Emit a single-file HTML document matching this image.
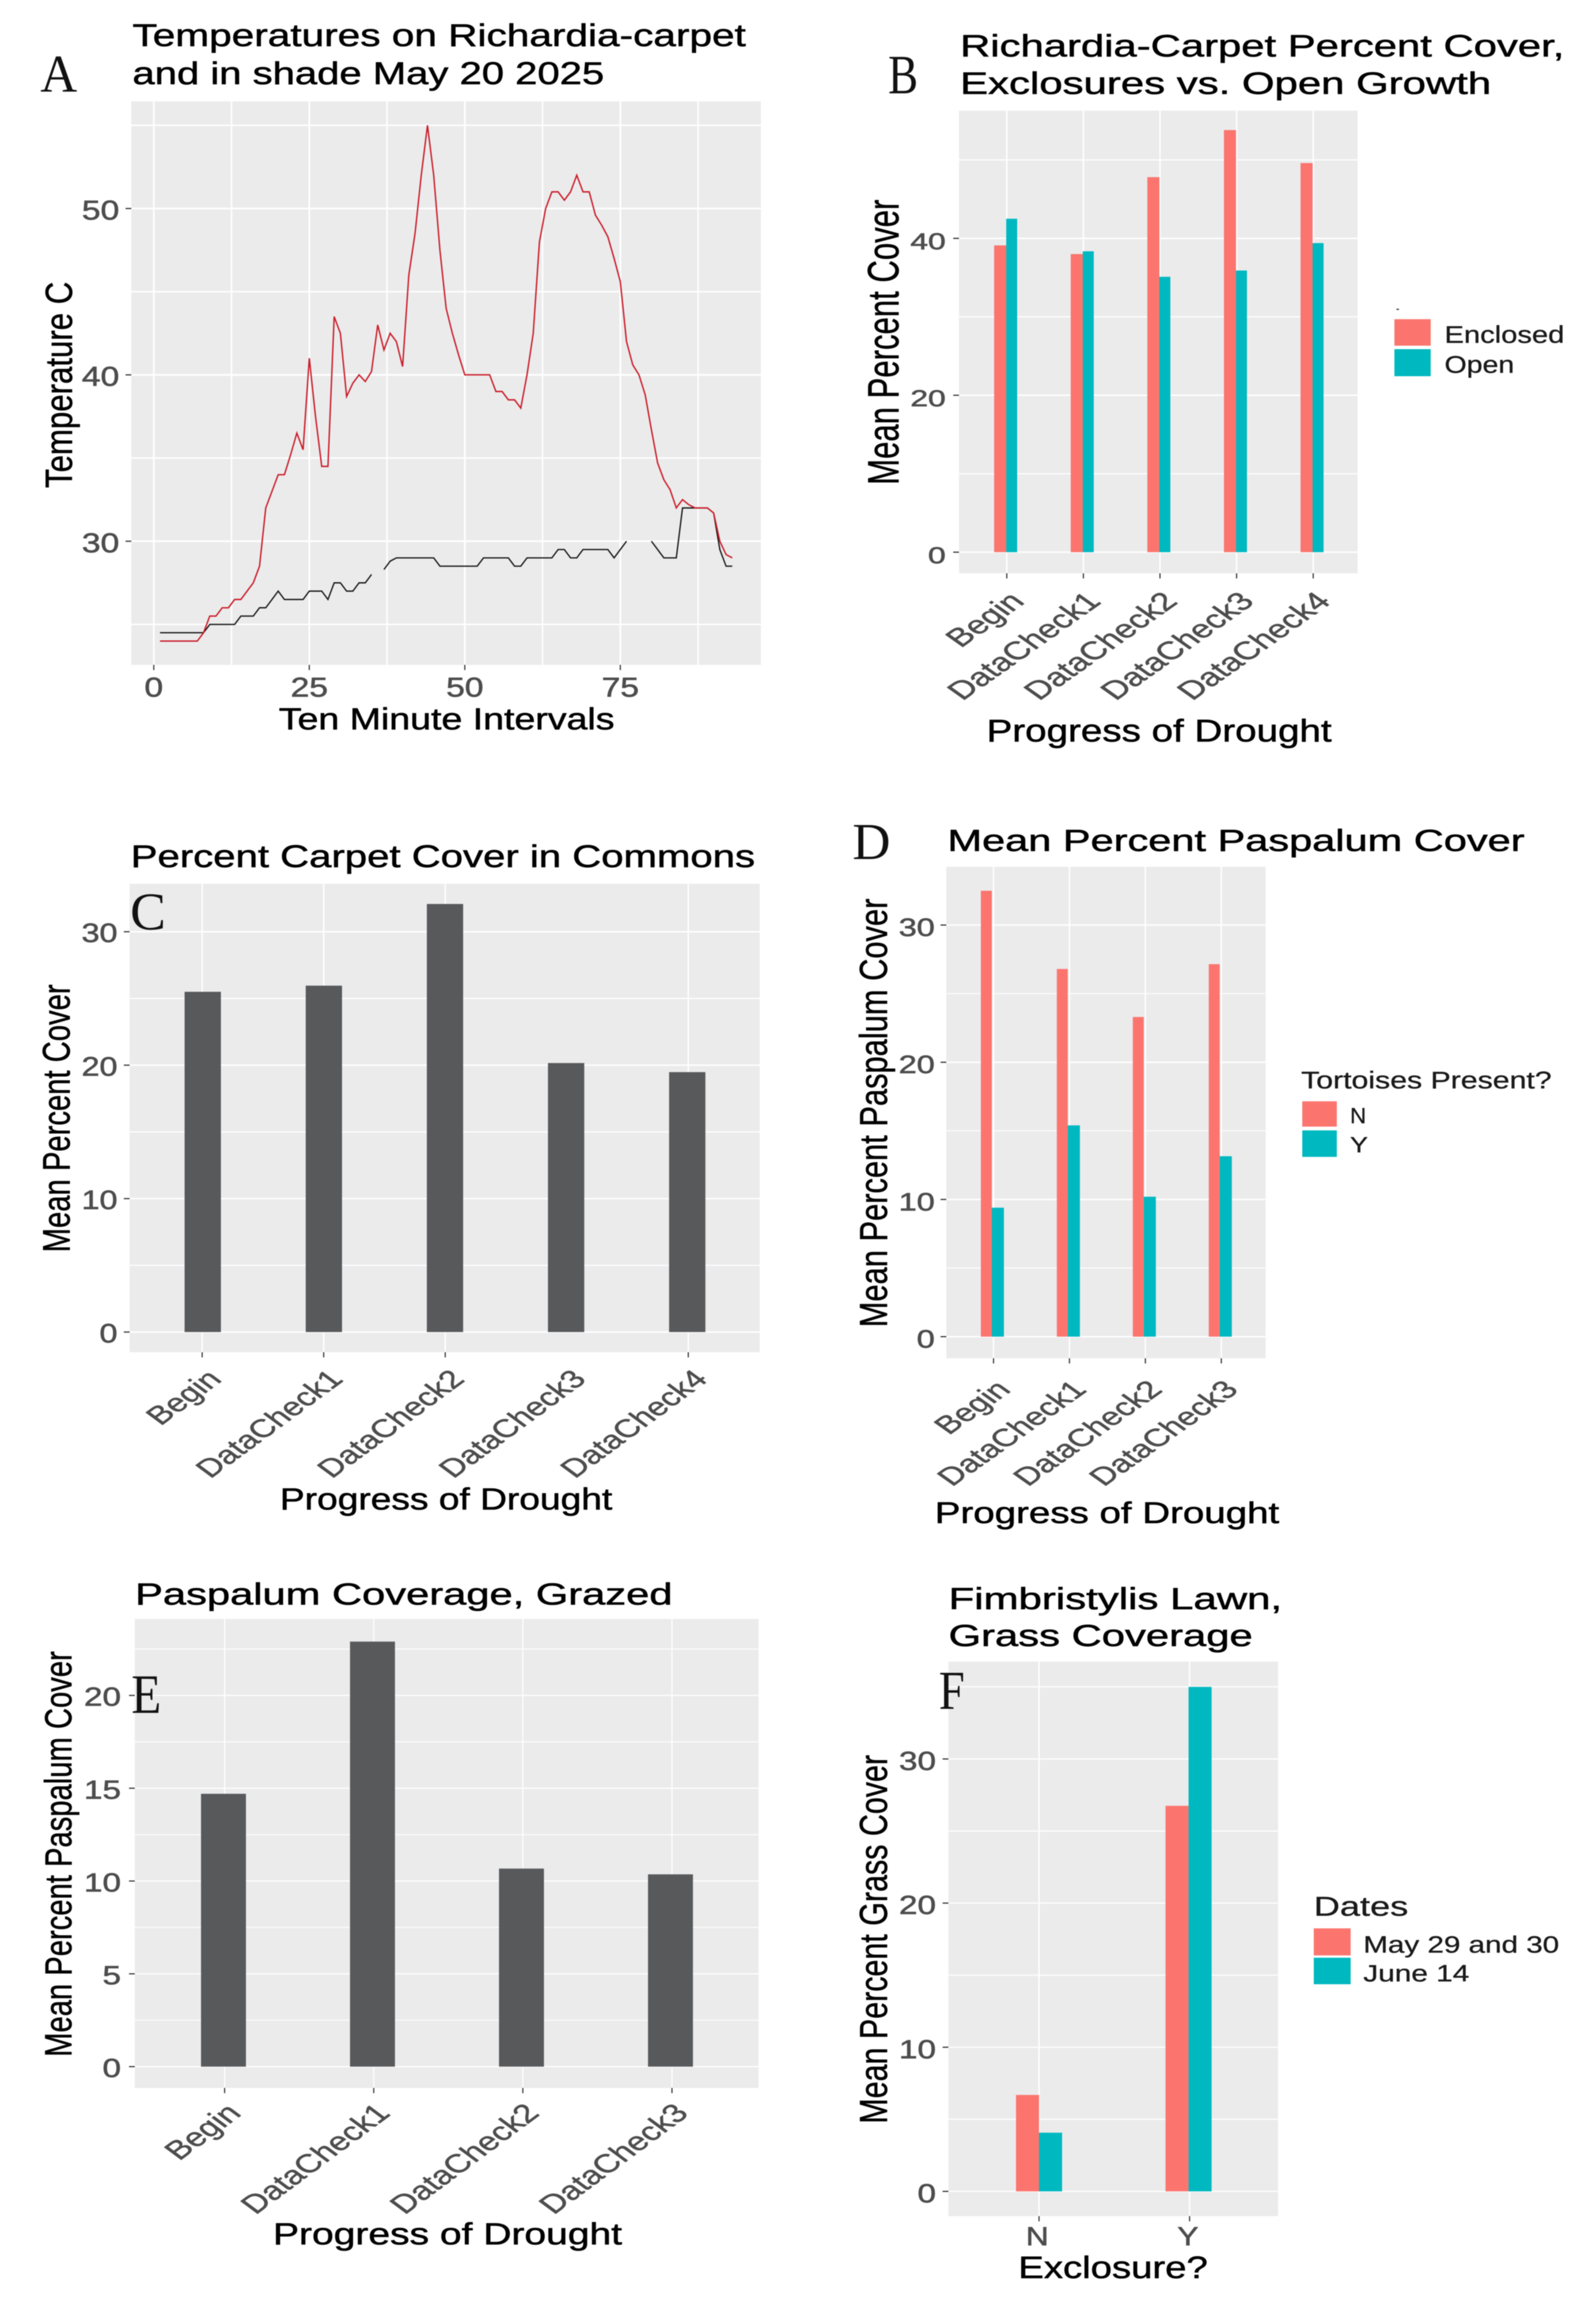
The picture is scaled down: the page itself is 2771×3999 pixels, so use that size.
<!DOCTYPE html>
<html lang="en">
<head>
<meta charset="utf-8">
<title>Richardia carpet and Paspalum cover figure</title>
<style>
html,body{margin:0;padding:0;background:#fff;}
svg{display:block;filter:blur(0.7px);}
text{font-family:"Liberation Sans",Arial,sans-serif;fill:#000;stroke:#000;stroke-width:0.8px;}
.letter{font-family:"Liberation Serif","Times New Roman",serif;fill:#111;stroke:none;}
.legend{fill:#1a1a1a;stroke:#1a1a1a;stroke-width:0.5px;}
</style>
</head>
<body>
<svg id="figure" xmlns="http://www.w3.org/2000/svg" width="2771" height="3999" viewBox="0 0 2771 3999">
  <rect x="0" y="0" width="2771" height="3999" fill="#fff"/>

  <g>
    <rect x="228" y="176" width="1093" height="978" fill="#ebebec"/>
    <g id="plot-a"></g>
    <text x="230" y="80" font-size="55" textLength="1065" lengthAdjust="spacingAndGlyphs">Temperatures on Richardia-carpet</text>
    <text x="230" y="146" font-size="55" textLength="819" lengthAdjust="spacingAndGlyphs">and in shade May 20 2025</text>
    <text class="letter" x="70" y="159" font-size="92" textLength="64" lengthAdjust="spacingAndGlyphs">A</text>
    <text x="484" y="1266" font-size="53" textLength="583" lengthAdjust="spacingAndGlyphs">Ten Minute Intervals</text>
    <text transform="translate(125,847) rotate(-90)" font-size="66" textLength="358" lengthAdjust="spacingAndGlyphs">Temperature C</text>
  </g>

  <g>
    <rect x="1665" y="192" width="692" height="803" fill="#ebebec"/>
    <g id="plot-b"></g>
    <text x="1667" y="98" font-size="54" textLength="1049" lengthAdjust="spacingAndGlyphs">Richardia-Carpet Percent Cover,</text>
    <text x="1667" y="163" font-size="54" textLength="922" lengthAdjust="spacingAndGlyphs">Exclosures vs. Open Growth</text>
    <text class="letter" x="1542" y="162" font-size="96" textLength="52" lengthAdjust="spacingAndGlyphs">B</text>
    <text x="1713" y="1287" font-size="55" textLength="599" lengthAdjust="spacingAndGlyphs">Progress of Drought</text>
    <text transform="translate(1560,841.5) rotate(-90)" font-size="76" textLength="495" lengthAdjust="spacingAndGlyphs">Mean Percent Cover</text>
    <g>
      <text class="legend" x="2424" y="541" font-size="16">-</text>
      <rect x="2421" y="554" width="63" height="46" fill="#fb756e"/>
      <rect x="2421" y="606" width="63" height="47" fill="#00b8c0"/>
      <text class="legend" x="2508" y="595" font-size="42" textLength="208" lengthAdjust="spacingAndGlyphs">Enclosed</text>
      <text class="legend" x="2508" y="647" font-size="42" textLength="121" lengthAdjust="spacingAndGlyphs">Open</text>
    </g>
  </g>

  <g>
    <rect x="225" y="1534" width="1094" height="813" fill="#ebebec"/>
    <g id="plot-c"></g>
    <text x="227" y="1505" font-size="55" textLength="1084" lengthAdjust="spacingAndGlyphs">Percent Carpet Cover in Commons</text>
    <text class="letter" x="226" y="1613" font-size="92" textLength="62" lengthAdjust="spacingAndGlyphs">C</text>
    <text x="486" y="2620" font-size="53" textLength="577" lengthAdjust="spacingAndGlyphs">Progress of Drought</text>
    <text transform="translate(121,2173.6) rotate(-90)" font-size="67" textLength="465" lengthAdjust="spacingAndGlyphs">Mean Percent Cover</text>
  </g>

  <g>
    <rect x="1643" y="1504.5" width="554.5" height="853" fill="#ebebec"/>
    <g id="plot-d"></g>
    <text x="1645" y="1477" font-size="53" textLength="1002" lengthAdjust="spacingAndGlyphs">Mean Percent Paspalum Cover</text>
    <text class="letter" x="1480" y="1491" font-size="90" textLength="66" lengthAdjust="spacingAndGlyphs">D</text>
    <text x="1623" y="2643.6" font-size="52" textLength="598" lengthAdjust="spacingAndGlyphs">Progress of Drought</text>
    <text transform="translate(1540,2303.7) rotate(-90)" font-size="68" textLength="744" lengthAdjust="spacingAndGlyphs">Mean Percent Paspalum Cover</text>
    <g>
      <text class="legend" x="2259" y="1889" font-size="42" textLength="435" lengthAdjust="spacingAndGlyphs">Tortoises Present?</text>
      <rect x="2261" y="1911.5" width="60" height="44" fill="#fb756e"/>
      <rect x="2261" y="1962" width="60" height="46" fill="#00b8c0"/>
      <text class="legend" x="2344" y="1949.6" font-size="38" textLength="28" lengthAdjust="spacingAndGlyphs">N</text>
      <text class="legend" x="2344" y="2000" font-size="38" textLength="31" lengthAdjust="spacingAndGlyphs">Y</text>
    </g>
  </g>

  <g>
    <rect x="234" y="2810" width="1083" height="814" fill="#ebebec"/>
    <g id="plot-e"></g>
    <text x="234.6" y="2785" font-size="53" textLength="933" lengthAdjust="spacingAndGlyphs">Paspalum Coverage, Grazed</text>
    <text class="letter" x="228" y="2973" font-size="96" textLength="52" lengthAdjust="spacingAndGlyphs">E</text>
    <text x="474" y="3895.4" font-size="53" textLength="606" lengthAdjust="spacingAndGlyphs">Progress of Drought</text>
    <text transform="translate(124,3570) rotate(-90)" font-size="66" textLength="704" lengthAdjust="spacingAndGlyphs">Mean Percent Paspalum Cover</text>
  </g>

  <g>
    <rect x="1646.6" y="2884" width="572.4" height="962.5" fill="#ebebec"/>
    <g id="plot-f"></g>
    <text x="1647" y="2793" font-size="53" textLength="579" lengthAdjust="spacingAndGlyphs">Fimbristylis Lawn,</text>
    <text x="1647" y="2857" font-size="53" textLength="528" lengthAdjust="spacingAndGlyphs">Grass Coverage</text>
    <text class="letter" x="1630" y="2966" font-size="95" textLength="45" lengthAdjust="spacingAndGlyphs">F</text>
    <text x="1768" y="3954" font-size="54" textLength="329" lengthAdjust="spacingAndGlyphs">Exclosure?</text>
    <text transform="translate(1540,3686) rotate(-90)" font-size="68" textLength="640" lengthAdjust="spacingAndGlyphs">Mean Percent Grass Cover</text>
    <g>
      <text class="legend" x="2281" y="3325" font-size="47" textLength="164" lengthAdjust="spacingAndGlyphs">Dates</text>
      <rect x="2281" y="3347" width="64" height="47" fill="#fb756e"/>
      <rect x="2281" y="3398" width="64" height="46" fill="#00b8c0"/>
      <text class="legend" x="2367" y="3389" font-size="41" textLength="340" lengthAdjust="spacingAndGlyphs">May 29 and 30</text>
      <text class="legend" x="2367" y="3439" font-size="41" textLength="184" lengthAdjust="spacingAndGlyphs">June 14</text>
    </g>
  </g>
</svg>

<script>
// Chart A data: one reading per ten minute interval, starting at interval 1; null marks a gap
const aCarpetTemps = [24,24,24,24,24,24,24,24.5,25.5,25.5,26,26,26.5,26.5,27,27.5,28.5,32,33,34,34,35.2,36.5,35.5,41,37.5,34.5,34.5,43.5,42.5,38.7,39.5,40,39.6,40.2,43,41.5,42.5,42,40.5,46,48.5,52,55,52,47.5,44,42.5,41.2,40,40,40,40,40,39,39,38.5,38.5,38,40,42.5,48,50,51,51,50.5,51,52,51,51,49.6,49,48.3,47,45.6,42,40.6,40,38.8,36.7,34.7,33.7,33.1,32,32.5,32.2,32,32,32,31.7,30,29.2,29];
const aShadeTemps = [24.5,24.5,24.5,24.5,24.5,24.5,24.5,24.5,25,25,25,25,25,25.5,25.5,25.5,26,26,26.5,27,26.5,26.5,26.5,26.5,27,27,27,26.5,27.5,27.5,27,27,27.5,27.5,28,null,28.3,28.8,29,29,29,29,29,29,29,28.5,28.5,28.5,28.5,28.5,28.5,28.5,29,29,29,29,29,28.5,28.5,29,29,29,29,29,29.5,29.5,29,29,29.5,29.5,29.5,29.5,29.5,29,29.5,30,null,null,null,30,29.5,29,29,29,32,32,32,32,32,31.7,29.5,28.5,28.5];
const aXTicks = [0,25,50,75];
const aXMinor = [12.5,37.5,62.5,87.5];
const aYTicks = [30,40,50];
const aYMinor = [25,35,45,55];

// Chart B data
const bCategories = ['Begin','DataCheck1','DataCheck2','DataCheck3','DataCheck4'];
const bEnclosed = [39.1,38,47.8,53.8,49.6];
const bOpen = [42.5,38.35,35.1,35.9,39.4];
const bYTicks = [0,20,40];
const bYMinor = [10,30,50];

// Chart C data
const cCategories = ['Begin','DataCheck1','DataCheck2','DataCheck3','DataCheck4'];
const cCover = [25.5,25.96,32.08,20.16,19.48];
const cYTicks = [0,10,20,30];
const cYMinor = [5,15,25];

// Chart D data
const dCategories = ['Begin','DataCheck1','DataCheck2','DataCheck3'];
const dNoTortoises = [32.5,26.8,23.3,27.15];
const dTortoises = [9.4,15.4,10.2,13.15];
const dYTicks = [0,10,20,30];
const dYMinor = [5,15,25];

// Chart E data
const eCategories = ['Begin','DataCheck1','DataCheck2','DataCheck3'];
const eCover = [14.7,22.9,10.67,10.36];
const eYTicks = [0,5,10,15,20];
const eYMinor = [2.5,7.5,12.5,17.5,22.5];

// Chart F data
const fCategories = ['N','Y'];
const fMay = [6.69,26.75];
const fJune = [4.07,35];
const fYTicks = [0,10,20,30];
const fYMinor = [5,15,25,35];

const SVG_NS = 'http://www.w3.org/2000/svg';
const GRID = '#ffffff';
const TICK = '#333333';
const LABEL = '#4d4d4d';
const SALMON = '#fb756e';
const TEAL = '#00b8c0';
const SLATE = '#57595b';

function make(tag, attrs, parent) {
  const el = document.createElementNS(SVG_NS, tag);
  for (const key in attrs) el.setAttribute(key, attrs[key]);
  parent.appendChild(el);
  return el;
}

function linearScale(v0, p0, v1, p1) {
  return function (v) { return p0 + (v - v0) * (p1 - p0) / (v1 - v0); };
}

function bandScale(first, step) {
  return function (i) { return first + step * i; };
}

function hLine(parent, y, x1, x2, width, stroke, name) {
  const el = make('line', {x1: x1, x2: x2, y1: y, y2: y, stroke: stroke, 'stroke-width': width}, parent);
  
  
}

function vLine(parent, x, y1, y2, width, stroke, name) {
  const el = make('line', {x1: x, x2: x, y1: y1, y2: y2, stroke: stroke, 'stroke-width': width}, parent);
  
  
}

function label(parent, str, x, y, size, sx, anchor, name) {
  const el = make('text', {transform: 'translate(' + x + ',' + y + ') scale(' + sx + ',1)', 'font-size': size, 'text-anchor': anchor}, parent);
  el.style.fill = LABEL;
  el.style.stroke = LABEL;
  el.style.strokeWidth = '0.9px';
  el.textContent = str;
  
  
}

function slantedLabel(parent, str, x, y, size, sx, name) {
  const el = make('text', {transform: 'translate(' + x + ',' + y + ') scale(' + sx + ',1) rotate(-45)', 'font-size': size, 'text-anchor': 'end'}, parent);
  el.style.fill = LABEL;
  el.style.stroke = LABEL;
  el.style.strokeWidth = '0.7px';
  el.textContent = str;
  
  
}

function bar(parent, x, width, top, bottom, fill, name) {
  const el = make('rect', {x: x, y: top, width: width, height: bottom - top, fill: fill}, parent);
  
  
}

function yAxis(parent, ticks, minor, y, left, right, labelRight, size, sx, dy, majorW, minorW) {
  minor.forEach(function (v) { hLine(parent, y(v), left, right, minorW, GRID, 'y-minor-gridline-' + v); });
  ticks.forEach(function (v) {
    hLine(parent, y(v), left, right, majorW, GRID, 'y-gridline-' + v);
    hLine(parent, y(v), left - 10, left, 2, TICK, 'y-tick-' + v);
    label(parent, String(v), labelRight, y(v) + dy, size, sx, 'end', 'y-tick-label-' + v);
  });
}

function categoryGrid(parent, categories, x, top, bottom, width, skip) {
  categories.forEach(function (c, i) {
    if (i === skip) return;
    vLine(parent, x(i), top, bottom, width, GRID, 'x-gridline-' + c);
    vLine(parent, x(i), bottom, bottom + 9, 2, TICK, 'x-tick-' + c);
  });
}

function groupedBars(parent, categories, first, second, split, y, w1, w2, name1, name2) {
  categories.forEach(function (c, i) {
    bar(parent, split(i) - w1, w1, y(first[i]), y(0), SALMON, 'bar-' + name1 + '-' + c);
    bar(parent, split(i), w2, y(second[i]), y(0), TEAL, 'bar-' + name2 + '-' + c);
  });
}

function linePath(values, x, y) {
  let d = '';
  let pen = false;
  values.forEach(function (v, i) {
    if (v === null) { pen = false; return; }
    d += (pen ? 'L' : 'M') + x(i + 1).toFixed(1) + ' ' + y(v).toFixed(1);
    pen = true;
  });
  return d;
}

// Chart A
(function () {
  const g = document.getElementById('plot-a');
  const x = linearScale(0, 267, 75, 1077);
  const y = linearScale(30, 939.4, 50, 361.9);
  aXMinor.forEach(function (v) { vLine(g, x(v), 176, 1154, 2.5, GRID, 'x-minor-gridline-' + v); });
  aXTicks.forEach(function (v) {
    vLine(g, x(v), 176, 1154, 3, GRID, 'x-gridline-' + v);
    vLine(g, x(v), 1154, 1163, 2, TICK, 'x-tick-' + v);
    label(g, String(v), x(v), 1209, 47, 1.24, 'middle', 'x-tick-label-' + v);
  });
  yAxis(g, aYTicks, aYMinor, y, 228, 1321, 207, 47, 1.24, 19, 3, 2.5);
  const shade = make('path', {d: linePath(aShadeTemps, x, y), fill: 'none', stroke: '#111111', 'stroke-width': 2.2}, g);
  
  
  const carpet = make('path', {d: linePath(aCarpetTemps, x, y), fill: 'none', stroke: '#cb1c28', 'stroke-width': 2.4}, g);
  
  
})();

// Chart B
(function () {
  const g = document.getElementById('plot-b');
  const y = linearScale(0, 958.4, 40, 413.7);
  const tick = bandScale(1748, 133);
  const split = bandScale(1747, 133);
  categoryGrid(g, bCategories, tick, 192, 995, 2.5);
  yAxis(g, bYTicks, bYMinor, y, 1665, 2357, 1642, 40, 1.38, 19, 2.5, 2);
  groupedBars(g, bCategories, bEnclosed, bOpen, split, y, 21, 19, 'enclosed', 'open');
  bCategories.forEach(function (c, i) {
    slantedLabel(g, c, tick(i) + 33, 1046, 44, 1.42, 'x-tick-label-' + c);
  });
})();

// Chart C
(function () {
  const g = document.getElementById('plot-c');
  const y = linearScale(0, 2312, 30, 1617.2);
  const tick = bandScale(351, 211);
  const center = bandScale(352, 210.3);
  categoryGrid(g, cCategories, tick, 1534, 2347, 2.5, 3);
  yAxis(g, cYTicks, cYMinor, y, 225, 1319, 204, 46, 1.22, 18, 2.5, 2);
  cCategories.forEach(function (c, i) {
    bar(g, center(i) - 31.5, 63, y(cCover[i]), y(0), SLATE, 'bar-' + c);
    slantedLabel(g, c, tick(i) + 36, 2396, 44, 1.36, 'x-tick-label-' + c);
  });
})();

// Chart D
(function () {
  const g = document.getElementById('plot-d');
  const y = linearScale(0, 2320, 30, 1605.6);
  const tick = bandScale(1725, 131.8);
  const split = bandScale(1722, 131.9);
  categoryGrid(g, dCategories, tick, 1504.5, 2357.5, 2.5);
  yAxis(g, dYTicks, dYMinor, y, 1643, 2197, 1623, 44, 1.28, 19, 2.5, 1.5);
  groupedBars(g, dCategories, dNoTortoises, dTortoises, split, y, 19, 21, 'no-tortoises', 'tortoises');
  dCategories.forEach(function (c, i) {
    slantedLabel(g, c, tick(i) + 32, 2414, 43, 1.41, 'x-tick-label-' + c);
  });
})();

// Chart E
(function () {
  const g = document.getElementById('plot-e');
  const y = linearScale(0, 3587, 20, 2942.7);
  const tick = bandScale(390, 258.9);
  const center = bandScale(388, 258.7);
  categoryGrid(g, eCategories, tick, 2810, 3624, 2);
  yAxis(g, eYTicks, eYMinor, y, 234, 1317, 210, 45, 1.28, 18, 2, 1.5);
  eCategories.forEach(function (c, i) {
    bar(g, center(i) - 39, 78, y(eCover[i]), y(0), SLATE, 'bar-' + c);
    slantedLabel(g, c, tick(i) + 31, 3670, 45, 1.35, 'x-tick-label-' + c);
  });
})();

// Chart F
(function () {
  const g = document.getElementById('plot-f');
  const y = linearScale(0, 3803.5, 30, 3053);
  const tick = bandScale(1804, 261.4);
  const split = bandScale(1804, 259.6);
  categoryGrid(g, fCategories, tick, 2884, 3846.5, 2.5);
  yAxis(g, fYTicks, fYMinor, y, 1646.6, 2219, 1625, 45, 1.28, 19, 2, 2);
  groupedBars(g, fCategories, fMay, fJune, split, y, 40, 40, 'may-29-and-30', 'june-14');
  fCategories.forEach(function (c, i) {
    label(g, c, tick(i) - 3, 3897, 45, 1.22, 'middle', 'x-tick-label-' + c);
  });
})();
</script>
</body>
</html>
